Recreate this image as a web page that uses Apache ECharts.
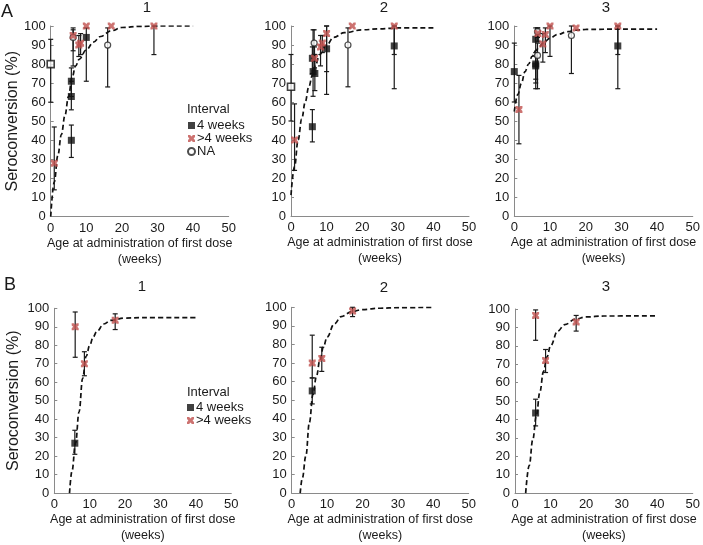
<!DOCTYPE html>
<html><head><meta charset="utf-8">
<script src="https://cdn.jsdelivr.net/npm/echarts@6/dist/echarts.min.js"></script>
<style>html,body{margin:0;padding:0;background:#fff}#c{width:703px;height:545px}</style>
</head><body><div id="c"></div>
<script>
// ---- data: [age (weeks), seroconversion %, lower CI, upper CI] ----
const xTicks = [0, 10, 20, 30, 40, 50];
const panelTitles = ['1', '2', '3', '1', '2', '3'];
const legendNames = ['4 weeks', '>4 weeks', 'NA'];

const A1_4wk = [[5.8,71,63,78],[5.8,63,56,71],[5.8,40,31,48],[10,94,71,99]];
const A1_gt4 = [[1,28,14,47],[6.3,95,87,99],[7.9,90,84,95],[8.4,91,85,96],[10,100,100,100],[17,100,100,100],[29,100,85,100]];
const A1_na  = [[6.3,94,79,98],[16,90,68,99]];
const A1_naSq = [[0,80,60,93]];
const A1_curve = [[0,0],[1,18],[2,32],[3,43],[4,53],[5,63],[6,73],[7,79],[8,82.5],[10,87.5],[12,91.5],[14,94.5],[17,97.5],[20,99.2],[25,99.8],[30,100],[40,100]];

const A2_4wk = [[6,47,39,56],[6,83,75,89],[6.2,76,63,98],[6.7,75,66,85],[10,88,64,100],[29,89.5,67,100]];
const A2_gt4 = [[1,40,24,59],[6.6,83,78,89],[8.3,89,79,95],[8.8,91,86,95],[10,96,76,100],[17.2,100,100,100],[29,100,85,100]];
const A2_na  = [[6.5,91,85,98],[16,90,68,99]];
const A2_naSq = [[0,68,50,85]];
const A2_curve = [[0,11],[1,26],[2,40],[3,51],[4,60],[5,68],[6,74],[7,80],[8,85],[10,90],[12,94],[15,96.5],[20,98],[25,98.5],[30,99],[40,99]];

const A3_4wk = [[0,76,60,91],[6,93,70,99],[6,80,72,86],[6,79,67,84],[29,89.5,67,100]];
const A3_gt4 = [[1.3,56,38,74],[6.6,96,92,99],[8,90.5,81,96],[8.7,95.5,86,99],[10,100,84,100],[17.3,99,99,99],[29,100,85,100]];
const A3_na  = [[6.5,84.5,67,91],[6.5,97,94,99],[16,95,75,100]];
const A3_naSq = [];
const A3_curve = [[0,55],[1,64],[2,70],[3,76],[4,80],[5,84],[6,87],[7,89],[8,91],[10,93.5],[12,95.5],[15,97],[17,97.8],[20,98.2],[30,98.4],[40,98.4]];

const B1_4wk = [[5.8,27,21,34]];
const B1_gt4 = [[5.9,90,73.5,98],[8.5,70,63.5,76.5],[17.2,93.5,88.5,97]];
const B1_curve = [[4.3,0],[5,12],[6,27],[7,44],[8,62],[9,74],[10,80],[11,84.5],[12,87.5],[14,91.5],[16,93.5],[20,94.7],[25,95],[40,95]];

const B2_4wk = [[5.8,55,48,62]];
const B2_gt4 = [[5.8,70,62,85],[8.5,72.5,65.5,78.5],[17.2,98,95,100]];
const B2_curve = [[2.4,0],[3,8],[4,20],[5,38],[6,53],[7,63],[8,72],[9,79],[10,84],[12,91],[14,95],[17,97.7],[20,98.8],[25,99.5],[30,99.8],[40,100]];

const B3_4wk = [[5.8,43.5,36.5,51]];
const B3_gt4 = [[5.8,96.5,83,99.5],[8.6,72,65.5,78],[17.2,93,88,96.5]];
const B3_curve = [[3,0],[4,15],[5,29],[6,42],[7,55],[8,66],[9,74],[10,80],[12,88],[14,91.5],[17,94.5],[20,95.7],[25,96.2],[40,96.3]];

const panels = [
  {fourWk:A1_4wk, gt4:A1_gt4, na:A1_na, naSq:A1_naSq, curve:A1_curve},
  {fourWk:A2_4wk, gt4:A2_gt4, na:A2_na, naSq:A2_naSq, curve:A2_curve},
  {fourWk:A3_4wk, gt4:A3_gt4, na:A3_na, naSq:A3_naSq, curve:A3_curve},
  {fourWk:B1_4wk, gt4:B1_gt4, na:[], naSq:[], curve:B1_curve},
  {fourWk:B2_4wk, gt4:B2_gt4, na:[], naSq:[], curve:B2_curve},
  {fourWk:B3_4wk, gt4:B3_gt4, na:[], naSq:[], curve:B3_curve}
];

// ---- layout / style ----
const FONT = '"Liberation Sans", Arial, sans-serif';
const TXT = '#1a1a1a';
const AXIS = '#8a8a8a';
const RED = '#C0504D';
const XMARK = 'path://M0,0 L3,0 L5,2 L7,0 L10,0 L10,3 L8,5 L10,7 L10,10 L7,10 L5,8 L3,10 L0,10 L0,7 L2,5 L0,3 Z';
const grids = [
  {left:50.7, top:26, width:178, height:190.5},
  {left:291, top:26, width:178, height:190},
  {left:514.3, top:26, width:178.7, height:190},
  {left:54.3, top:308.3, width:177, height:190},
  {left:291.7, top:307.3, width:177, height:190.4},
  {left:515, top:309, width:178, height:189.7}
];
const titlePos = [[147,8],[384,8],[606,8],[142,287],[384,288],[606,287]];

const xAxis = [], yAxis = [], series = [];
grids.forEach((g, i) => {
  xAxis.push({
    type:'value', gridIndex:i, min:xTicks[0], max:xTicks[xTicks.length-1], interval:10,
    axisLine:{show:true, onZero:false, lineStyle:{color:AXIS, width:1}},
    axisTick:{show:false}, splitLine:{show:false},
    axisLabel:{color:TXT, fontSize:13, fontFamily:FONT, margin:5},
    name:'Age at administration of first dose\n(weeks)', nameLocation:'middle', nameGap:17,
    nameTextStyle:{color:TXT, fontSize:12.5, fontFamily:FONT, lineHeight:16, verticalAlign:'top'}
  });
  yAxis.push({
    type:'value', gridIndex:i, min:0, max:100, interval:10,
    axisLine:{show:true, lineStyle:{color:AXIS, width:1}},
    axisTick:{show:true, inside:true, length:3, lineStyle:{color:AXIS}}, splitLine:{show:false},
    axisLabel:{color:TXT, fontSize:13, fontFamily:FONT, margin:5},
    name:(i===0||i===3)?'Seroconversion (%)':'', nameLocation:'middle', nameGap:i===0?30:33,
    nameTextStyle:{color:TXT, fontSize:16, fontFamily:FONT}
  });
  const p = panels[i];
  const all = [].concat(p.fourWk, p.gt4, p.na, p.naSq);
  series.push({
    type:'custom', xAxisIndex:i, yAxisIndex:i, z:1, silent:true,
    data: all,
    renderItem: (params, api) => {
      const x = api.value(0), lo = api.value(2), hi = api.value(3);
      if (hi - lo < 0.5) return null;
      const a = api.coord([x, lo]), b = api.coord([x, hi]);
      const c = 2.5, st = {stroke:'#1a1a1a', lineWidth:1.2};
      return {type:'group', children:[
        {type:'line', shape:{x1:a[0], y1:a[1], x2:b[0], y2:b[1]}, style:st},
        {type:'line', shape:{x1:a[0]-c, y1:a[1], x2:a[0]+c, y2:a[1]}, style:st},
        {type:'line', shape:{x1:b[0]-c, y1:b[1], x2:b[0]+c, y2:b[1]}, style:st}
      ]};
    }
  });
  series.push({
    type:'line', xAxisIndex:i, yAxisIndex:i, z:2, silent:true,
    data:p.curve, showSymbol:false, symbol:'none', smooth:0.4, smoothMonotone:'x',
    lineStyle:{color:'#111', width:1.7, type:[5,3]}
  });
  if (p.naSq.length) series.push({
    type:'scatter', xAxisIndex:i, yAxisIndex:i, z:3, data:p.naSq,
    symbol:'rect', symbolSize:7, itemStyle:{color:'#fff', borderColor:'#111', borderWidth:1.6}
  });
  series.push({
    name:'NA', type:'scatter', xAxisIndex:i, yAxisIndex:i, z:3, data:p.na,
    symbol:'circle', symbolSize:6, itemStyle:{color:'#fff', borderColor:'#222', borderWidth:1.2}
  });
  series.push({
    name:'4 weeks', type:'scatter', xAxisIndex:i, yAxisIndex:i, z:4, data:p.fourWk,
    symbol:'rect', symbolSize:7, itemStyle:{color:'#111'}
  });
  series.push({
    name:'>4 weeks', type:'scatter', xAxisIndex:i, yAxisIndex:i, z:5, data:p.gt4,
    symbol:XMARK, symbolSize:7, itemStyle:{color:RED}
  });
});

const graphic = [
  {type:'text', x:7, y:12, style:{text:'A', fontSize:18, fontFamily:FONT, fill:TXT, align:'center', verticalAlign:'middle'}},
  {type:'text', x:10, y:285, style:{text:'B', fontSize:18, fontFamily:FONT, fill:TXT, align:'center', verticalAlign:'middle'}},
  {type:'text', x:187, y:109, style:{text:'Interval', fontSize:13, fontFamily:FONT, fill:TXT, align:'left', verticalAlign:'middle'}},
  {type:'text', x:187, y:392, style:{text:'Interval', fontSize:13, fontFamily:FONT, fill:TXT, align:'left', verticalAlign:'middle'}}
];
titlePos.forEach((t, i) => graphic.push({type:'text', x:t[0], y:t[1], style:{text:panelTitles[i], fontSize:15, fontFamily:FONT, fill:TXT, align:'center', verticalAlign:'middle'}}));

const legendCommon = {orient:'vertical', itemWidth:7, itemHeight:7, itemGap:0, padding:0, selectedMode:false,
  textStyle:{color:TXT, fontSize:13, fontFamily:FONT, lineHeight:13, padding:[0,0,0,-3]}};
const chart = echarts.init(document.getElementById('c'), null, {renderer:'canvas'});
chart.setOption({
  animation:false, backgroundColor:'#fff',
  grid:grids, xAxis, yAxis, series, graphic,
  legend:[
    Object.assign({data:legendNames, left:187, top:119}, legendCommon),
    Object.assign({data:legendNames.slice(0,2), left:187, top:401}, legendCommon)
  ]
});
</script></body></html>
